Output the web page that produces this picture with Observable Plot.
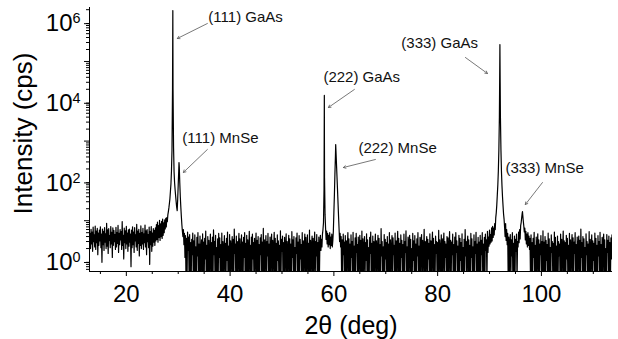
<!DOCTYPE html>
<html><head><meta charset="utf-8">
<script src="https://cdn.jsdelivr.net/npm/d3@7"></script>
<script src="https://cdn.jsdelivr.net/npm/@observablehq/plot@0.6"></script>
<style>html,body{margin:0;padding:0;background:#fff;}</style>
</head><body><div id="chart"></div>
<script>
// ---- data ----
const scanStart = 13;     // deg, first point of the scan
const scanStep = 0.1;     // deg, scan step
const scanCps = [
  4.8,2.0,6.1,2.6,5.2,1.7,6.9,3.0,4.4,2.2,7.3,1.9,5.5,2.8,6.4,1.4,4.9,2.4,5.8,3.1,7.0,2.1,4.6,0.9,6.2,
  2.5,5.4,1.8,6.7,2.9,4.7,2.0,8.6,2.3,5.9,1.5,6.3,3.2,4.2,2.1,7.1,2.6,5.1,1.2,6.6,2.4,5.7,3.0,4.5,1.9,
  6.8,2.2,5.0,2.7,7.6,1.6,4.8,2.5,6.0,3.3,5.3,1.9,9.5,2.4,4.3,1.1,6.5,2.8,5.6,2.0,7.2,2.6,4.9,1.7,5.9,
  2.3,6.2,2.9,4.6,0.7,5.8,2.1,7.0,2.5,5.2,1.6,6.7,3.1,4.4,2.2,8.1,1.8,5.5,2.7,6.1,1.3,4.8,2.4,7.4,2.0,
  5.0,2.6,6.4,1.9,4.7,2.8,7.8,2.2,5.6,1.4,6.0,3.0,4.5,2.1,6.9,0.8,5.3,2.5,7.1,1.7,4.9,2.3,6.3,2.9,5.7,
  2.4,6.6,3.1,8.0,3.4,9.2,2.9,7.5,3.8,10.2,3.2,8.4,4.0,9.6,3.6,11,4.3,8.8,5.0,10.5,6.2,11.5,7.0,12,9.5,
  14,17,21,27,36,55,85,180,600,20000,20000,700,170,90,60,42,30,22,18,35,80,180,230,90,40,
  22,13,8,5.5,4.0,6,2.5,4.8,1.2,4.2,0.3,3.6,0.3,5.2,1.8,3.9,0.3,4.5,0.3,2.8,0.3,3.4,1.4,4.9,0.3,
  3.1,0.3,4.4,0.3,2.2,0.3,3.8,1.3,5.0,0.3,2.6,0.3,4.1,0.3,1.9,3.3,0.3,4.7,0.3,2.9,0.3,3.6,1.1,5.5,0.3,
  2.4,0.3,4.0,0.3,3.2,0.3,1.7,4.6,0.3,2.8,0.3,3.9,0.3,5.9,1.4,3.0,0.3,4.3,0.3,2.1,0.3,3.5,0.3,4.8,1.2,
  3.7,0.3,2.5,0.3,4.9,0.3,3.0,0.3,1.8,4.2,0.3,2.7,0.3,3.6,1.0,5.2,0.3,2.3,0.3,4.5,0.3,3.1,0.3,2.0,4.0,
  0.3,3.4,0.3,6.2,1.5,2.6,0.3,4.1,0.3,3.0,0.3,2.2,4.8,0.3,3.5,0.3,1.6,4.4,0.3,2.9,0.3,3.8,1.2,5.0,0.3,
  2.7,0.3,4.3,0.3,3.3,0.3,1.9,5.4,0.3,2.4,0.3,3.9,0.3,4.6,1.1,2.8,0.3,3.6,0.3,2.0,4.9,0.3,3.2,0.3,4.0,
  0.3,2.5,0.3,3.7,1.4,4.5,0.3,2.9,0.3,6.4,0.3,3.3,0.3,2.1,4.2,0.3,3.0,1.3,4.8,0.3,2.6,0.3,3.9,0.3,2.3,
  4.6,0.3,3.2,0.3,2.0,5.1,0.3,3.6,0.3,2.7,0.3,4.4,1.0,3.1,0.3,2.4,0.3,5.6,0.3,3.4,1.7,4.1,0.3,2.8,0.3,
  3.8,0.3,2.2,4.7,0.3,3.0,0.3,1.8,4.3,0.3,3.5,0.3,2.6,0.3,5.3,1.2,3.3,0.3,4.0,0.3,2.1,0.3,3.7,1.5,4.9,
  0.3,2.9,0.3,4.2,0.3,3.4,1.1,2.5,0.3,5.0,0.3,3.1,0.3,2.3,4.6,0.3,3.8,0.3,1.9,4.4,0.3,2.7,0.3,5.8,0.3,
  3.2,0.3,2.4,4.1,0.3,3.6,0.3,2.0,5.2,0.3,3.0,1.3,4.5,0.3,2.8,0.3,3.9,0.3,2.5,4.3,1.8,3.4,2.2,4.6,6.0,
  9,60,120,14,6.5,3.4,5.5,2.6,4.8,2.2,4.3,2.5,5.0,2.0,3.9,2.4,4.6,2.2,3.2,5.5,16,45,150,420,570,
  270,127,60,28,13,6.3,3.0,4.8,2.2,4.0,0.3,3.3,0.3,4.6,1.4,2.9,0.3,4.2,0.3,3.1,0.3,2.4,5.0,0.3,3.5,
  0.3,2.6,0.3,4.4,1.2,3.0,0.3,5.1,0.3,2.3,0.3,3.7,0.3,4.8,1.6,2.5,0.3,3.9,0.3,2.0,4.3,0.3,3.2,0.3,5.5,
  0.3,3.5,0.3,2.2,4.0,0.3,2.8,1.0,4.7,0.3,3.3,0.3,2.1,0.3,3.8,1.5,5.2,0.3,2.7,0.3,4.1,0.3,3.0,0.3,2.4,
  4.6,0.3,3.1,0.3,1.9,4.3,0.3,3.6,0.3,2.5,0.3,6.3,1.3,3.0,0.3,2.2,0.3,4.5,0.3,3.4,1.1,2.8,0.3,4.0,0.3,
  2.6,0.3,5.0,0.3,3.3,0.3,2.0,4.2,0.3,3.7,1.4,2.4,0.3,4.9,0.3,3.1,0.3,2.3,5.4,0.3,3.6,0.3,2.7,0.3,4.4,
  1.2,3.2,0.3,2.5,0.3,4.6,0.3,3.0,1.6,5.6,0.3,2.2,0.3,3.9,0.3,2.8,4.3,0.3,3.4,0.3,2.0,0.3,4.8,1.0,3.1,
  0.3,4.2,0.3,2.6,0.3,3.5,1.3,5.0,0.3,2.3,0.3,3.8,0.3,2.9,4.5,0.3,3.2,0.3,1.8,6.1,0.3,3.0,0.3,2.4,4.0,
  0.3,3.4,1.1,2.7,0.3,4.7,0.3,3.1,0.3,2.2,5.2,0.3,3.6,0.3,2.5,0.3,4.1,1.5,3.0,0.3,2.8,0.3,5.7,0.3,3.3,
  2.1,0.3,4.4,0.3,3.5,0.3,2.4,4.9,0.3,3.0,1.2,2.6,0.3,4.0,0.3,3.7,0.3,2.0,5.3,0.3,3.2,0.3,2.9,1.4,4.6,
  0.3,2.5,0.3,3.9,0.3,5.0,1.6,3.1,0.3,2.3,0.3,4.3,0.3,3.6,1.0,2.8,0.3,4.7,0.3,2.1,0.3,3.4,0.3,6.0,1.3,
  3.0,0.3,2.7,4.1,0.3,3.3,0.3,2.4,0.3,4.8,1.2,3.5,0.3,2.2,0.3,4.4,0.3,3.0,1.5,5.1,0.3,2.6,0.3,3.8,0.3,
  2.9,0.3,4.3,0.3,3.2,1.4,5.0,0.3,2.6,0.3,3.8,0.3,4.6,1.8,3.3,0.3,5.4,1.6,3.9,2.3,5.8,2.6,4.5,2.9,6.6,
  3.1,7.2,3.8,6.5,4.4,8.5,6.0,12,16,25,45,80,180,600,4000,267000,4000,600,170,75,40,24,15,11,7,
  4.0,8.5,3.2,6.0,2.5,4.8,0.3,3.9,0.3,2.8,4.5,0.3,3.3,1.3,5.0,0.3,2.7,0.3,4.1,0.3,3.4,1.7,4.6,0.3,3.0,
  2.2,5.2,2.8,6.0,3.5,7.5,9,12,15.5,14,10,7.5,5.2,6.5,3.3,5.4,2.6,4.6,2.2,5.0,2.4,4.1,1.9,3.6,0.3,
  4.4,0.3,2.8,0.3,3.6,1.2,5.1,0.3,2.4,0.3,3.9,0.3,2.2,4.7,0.3,3.3,0.3,2.6,1.4,4.2,0.3,3.0,0.3,5.6,0.3,
  2.9,0.3,4.0,0.3,3.2,1.0,2.5,0.3,4.9,0.3,3.5,0.3,2.1,0.3,4.4,1.6,3.0,0.3,2.7,0.3,5.2,0.3,3.8,0.3,2.3,
  0.3,4.1,0.3,3.0,1.3,2.6,0.3,4.6,0.3,3.4,0.3,2.0,5.5,0.3,3.1,0.3,2.8,0.3,4.3,1.1,3.6,0.3,2.4,0.3,4.8,
  0.3,3.3,0.3,2.2,4.5,0.3,3.7,0.3,2.9,1.5,5.0,0.3,2.5,0.3,3.9,0.3,2.3,4.1,0.3,3.2,0.3,6.2,1.2,2.8,0.3,
  4.0,0.3,3.5,0.3,2.1,0.3,4.7,1.4,3.0,0.3,2.6,0.3,5.3,0.3,3.4,0.3,2.2,4.4,0.3,3.1,1.0,2.7,0.3,4.9,0.3,
  3.6,0.3,2.4,0.3,4.2,1.3,3.0,0.3,5.1,0.3,2.5,0.3,3.8,0.3,2.9,4.6,0.3,3.3,0.3,2.0,0.3,4.5,1.6,3.2,0.3,
  4.1,0.3,2.8,0.3,3.7,1.1,4.4
];
// finely sampled points at the tops of the sharp Bragg peaks
const peakAngles = [28.93, 28.96, 28.98, 30.15, 58.13, 58.16, 58.18, 60.35, 91.95, 92.05, 96.35];
const peakCps    = [200000, 1900000, 200000, 290, 900, 14000, 900, 820, 30000, 30000, 17];

// annotations
const annLabels    = ["(111) GaAs", "(111) MnSe", "(222) GaAs", "(222) MnSe", "(333) GaAs", "(333) MnSe"];
const annTextAngle = [35.81, 30.8, 57.98, 64.73, 73.0, 93.06];
const annTextCps   = [1.28e6, 1162, 3.96e4, 652, 2.83e5, 205];
const annFromAngle = [35.62, 35.62, 63.95, 68.0, 85.35, 100.2];
const annFromCps   = [9.0e5, 615, 1.98e4, 345, 1.26e5, 91];
const annToAngle   = [29.83, 30.99, 58.94, 61.83, 89.6, 96.9];
const annToCps     = [3.78e5, 163, 6980, 217, 4.99e4, 25.5];

// axes
const xDomain = [12.9, 113.7];
const yDomain = [0.53, 2.27e6];
const xTicks = [20, 40, 60, 80, 100];
const yTicks = [1, 1e2, 1e4, 1e6];

// ---- build tables ----
const points = scanCps.map((c, i) => ({angle: +(scanStart + i * scanStep).toFixed(2), cps: c}))
  .concat(peakAngles.map((a, i) => ({angle: a, cps: peakCps[i]})))
  .sort((a, b) => a.angle - b.angle);
const ann = annLabels.map((l, i) => ({
  label: l, tx: annTextAngle[i], ty: annTextCps[i],
  x1: annFromAngle[i], y1: annFromCps[i], x2: annToAngle[i], y2: annToCps[i]
}));
const xMinor = d3.range(15, 115, 5).filter(v => !xTicks.includes(v) && v >= xDomain[0] && v <= xDomain[1]);
const yDecades = [10, 1e3, 1e5];
const yMinor = [];
for (let e = -1; e <= 6; e++) for (let m = 2; m <= 9; m++) {
  const v = m * Math.pow(10, e);
  if (v >= yDomain[0] && v <= yDomain[1]) yMinor.push(v);
}

const font = "Arial, 'Liberation Sans', Helvetica, sans-serif";
const chart = Plot.plot({
  width: 618, height: 339,
  marginLeft: 89, marginRight: 6, marginTop: 7, marginBottom: 68,
  x: {domain: xDomain},
  y: {type: "log", domain: yDomain},
  style: {fontFamily: font, color: "black", background: "white"},
  marks: [
    Plot.line(points, {x: "angle", y: "cps", stroke: "black", strokeWidth: 1.2, clip: true}),
    Plot.ruleX([xDomain[0]], {stroke: "black", strokeWidth: 1}),
    Plot.ruleY([yDomain[0]], {stroke: "black", strokeWidth: 1}),
    Plot.axisX(xTicks, {tickSize: 5, tickPadding: 8, fontSize: 24, label: null}),
    Plot.axisX(xMinor, {tickSize: 3, tickFormat: () => "", label: null}),
    Plot.axisY(yTicks, {tickSize: 5, tickPadding: 4, fontSize: 24, label: null, dy: 2,
      tickFormat: d => "10^" + Math.round(Math.log10(d))}),
    Plot.axisY(yDecades, {tickSize: 5, tickFormat: () => "", label: null}),
    Plot.axisY(yMinor, {tickSize: 3, tickFormat: () => "", label: null}),
    Plot.arrow(ann, {x1: "x1", y1: "y1", x2: "x2", y2: "y2", stroke: "#555", strokeWidth: 0.8, headLength: 5}),
    Plot.text(ann, {x: "tx", y: "ty", text: "label", textAnchor: "start", lineAnchor: "middle", fontSize: 15, fill: "#111"}),
    Plot.text(["Intensity (cps)"], {frameAnchor: "left", text: d => d, rotate: -90, dx: -65.6, dy: -6, fontSize: 26, textAnchor: "middle", lineAnchor: "middle"}),
    Plot.text(["2θ (deg)"], {frameAnchor: "bottom", text: d => d, dy: 54, fontSize: 25, textAnchor: "middle", lineAnchor: "middle"})
  ]
});

// superscript exponents on the log axis labels
const ns = "http://www.w3.org/2000/svg";
chart.querySelectorAll('[aria-label="y-axis tick label"] text').forEach(t => {
  const s = t.textContent;
  if (!s.includes("^")) return;
  const [b, e] = s.split("^");
  t.textContent = "";
  const t1 = document.createElementNS(ns, "tspan"); t1.textContent = b; t.appendChild(t1);
  const t2 = document.createElementNS(ns, "tspan");
  t2.setAttribute("font-size", "0.6em"); t2.setAttribute("dy", "-0.55em"); t2.textContent = e;
  t.appendChild(t2);
});
document.getElementById("chart").appendChild(chart);
</script></body></html>
